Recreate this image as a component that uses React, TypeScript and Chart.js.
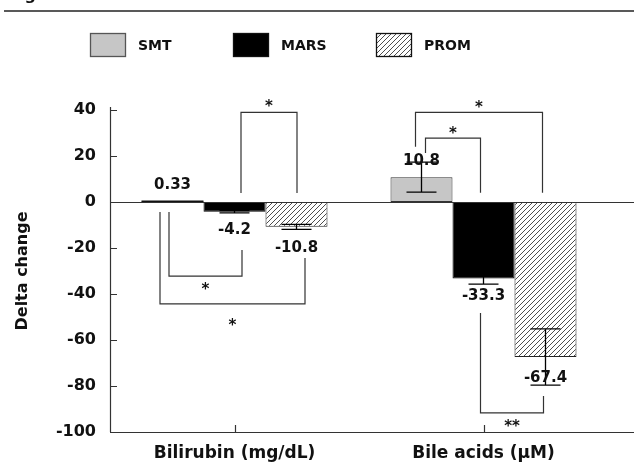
import { useEffect, useRef } from 'react';
import { Chart, registerables } from 'chart.js';

Chart.register(...registerables);

const categories = ['Bilirubin (mg/dL)', 'Bile acids (μM)'];
const seriesNames = ['SMT', 'MARS', 'PROM'];
const smtValues = [0.33, 10.8];
const marsValues = [-4.2, -33.3];
const promValues = [-10.8, -67.4];
const smtErrors = [0, 6.5];
const marsErrors = [0.5, 2.4];
const promErrors = [1.1, 12.2];
const yMin = -100;
const yMax = 40;
const yStep = 20;

// significance brackets: category, bar a, bar b, end values (data units), level (data units)
const brackets = [
  { cat: 0, a: 1, b: 2, aEnd: 3.9, bEnd: 3.9, level: 39, aDx: 6.5, bDx: 0.5, stars: '*', below: false, gap: 10 },
  { cat: 0, a: 0, b: 1, aEnd: -4.3, bEnd: -20.9, level: -32.2, aDx: -3.5, bDx: 7.5, stars: '*', below: true, gap: 9 },
  { cat: 0, a: 0, b: 2, aEnd: -4.3, bEnd: -24.3, level: -44.3, aDx: -12.5, bDx: 8.5, stars: '*', below: true, gap: 17 },
  { cat: 1, a: 0, b: 2, aEnd: 24, bEnd: 4, level: 39, aDx: -6, bDx: -3, stars: '*', below: false, gap: 9 },
  { cat: 1, a: 0, b: 1, aEnd: 21.3, bEnd: 4, level: 27.8, aDx: 4, bDx: -3, stars: '*', below: false, gap: 9 },
  { cat: 1, a: 1, b: 2, aEnd: -48.3, bEnd: -84.3, level: -91.7, aDx: -3, bDx: -2, stars: '**', below: true, gap: 9 },
];

const FONT = "'DejaVu Sans', sans-serif";

function makeHatch(): CanvasPattern | string {
  const c = document.createElement('canvas');
  const s = 5;
  c.width = s;
  c.height = s;
  const g = c.getContext('2d');
  if (!g) return '#fff';
  g.fillStyle = '#fff';
  g.fillRect(0, 0, s, s);
  g.strokeStyle = '#3a3a3a';
  g.lineWidth = 0.9;
  g.beginPath();
  g.moveTo(-1, s + 1);
  g.lineTo(s + 1, -1);
  g.moveTo(-1, 1);
  g.lineTo(1, -1);
  g.moveTo(s - 1, s + 1);
  g.lineTo(s + 1, s - 1);
  g.stroke();
  return g.createPattern(c, 'repeat') || '#fff';
}

export default function App() {
  const ref = useRef<HTMLCanvasElement | null>(null);

  useEffect(() => {
    document.body.style.margin = '0';
    const canvas = ref.current;
    if (!canvas) return;
    const hatch = makeHatch();
    const values = [smtValues, marsValues, promValues];
    const errors = [smtErrors, marsErrors, promErrors];
    const fills: (string | CanvasPattern)[] = ['#c6c6c6', '#000000', hatch];
    const borders = ['#333333', '#000000', '#222222'];

    const overlay = {
      id: 'overlay',
      afterDatasetsDraw(chart: any) {
        const ctx: CanvasRenderingContext2D = chart.ctx;
        const ys = chart.scales.y;
        const xs = chart.scales.x;
        const area = chart.chartArea;
        const W = chart.width;
        ctx.save();
        // zero line and bottom axis, extended to the right edge
        ctx.strokeStyle = '#333';
        ctx.lineWidth = 1.2;
        ctx.beginPath();
        const y0 = Math.round(ys.getPixelForValue(0)) + 0.5;
        ctx.moveTo(area.left, y0);
        ctx.lineTo(W, y0);
        const yb = Math.round(area.bottom) + 0.5;
        ctx.moveTo(area.left, yb);
        ctx.lineTo(W, yb);
        ctx.stroke();
        // y axis line slightly above the top tick
        ctx.beginPath();
        ctx.moveTo(area.left + 0.5, area.top - 3);
        ctx.lineTo(area.left + 0.5, area.bottom);
        ctx.stroke();
        // inward ticks on y
        ctx.beginPath();
        for (let v = yMin; v <= yMax; v += yStep) {
          const py = Math.round(ys.getPixelForValue(v)) + 0.5;
          ctx.moveTo(area.left, py);
          ctx.lineTo(area.left + 7, py);
        }
        // inward category ticks
        for (let i = 0; i < categories.length; i++) {
          const px = Math.round(xs.getPixelForValue(i)) + 0.5;
          ctx.moveTo(px, area.bottom);
          ctx.lineTo(px, area.bottom - 7);
        }
        ctx.stroke();

        // SMT near-zero bar outline emphasis (bar edge as drawn in the source)
        {
          const meta = chart.getDatasetMeta(0);
          for (let i = 0; i < categories.length; i++) {
            const el = meta.data[i];
            const h = Math.abs(el.base - el.y);
            if (h < 3) {
              ctx.strokeStyle = '#111';
              ctx.lineWidth = 1.6;
              ctx.beginPath();
              ctx.moveTo(el.x - el.width / 2, el.y);
              ctx.lineTo(el.x + el.width / 2, el.y);
              ctx.stroke();
            }
          }
        }

        // error bars
        ctx.strokeStyle = '#000';
        ctx.lineWidth = 1.3;
        for (let d = 0; d < values.length; d++) {
          const meta = chart.getDatasetMeta(d);
          for (let i = 0; i < categories.length; i++) {
            const e = errors[d][i];
            if (!e) continue;
            const v = values[d][i];
            const x = meta.data[i].x;
            const yTop = ys.getPixelForValue(v + e);
            const yBot = ys.getPixelForValue(v - e);
            ctx.beginPath();
            ctx.moveTo(x, yTop);
            ctx.lineTo(x, yBot);
            ctx.moveTo(x - 15, yTop);
            ctx.lineTo(x + 15, yTop);
            ctx.moveTo(x - 15, yBot);
            ctx.lineTo(x + 15, yBot);
            ctx.stroke();
          }
        }

        // value labels
        ctx.fillStyle = '#111';
        ctx.font = `bold 15px ${FONT}`;
        ctx.textAlign = 'center';
        ctx.textBaseline = 'middle';
        for (let d = 0; d < values.length; d++) {
          const meta = chart.getDatasetMeta(d);
          for (let i = 0; i < categories.length; i++) {
            const v = values[d][i];
            const x = meta.data[i].x;
            const off = v >= 0 ? -16 : d === 1 ? 18 : 21;
            ctx.fillText(String(v), x, ys.getPixelForValue(v) + off);
          }
        }

        // significance brackets
        ctx.strokeStyle = '#333';
        ctx.lineWidth = 1.2;
        const starSize = 15;
        for (const b of brackets) {
          const xa = chart.getDatasetMeta(b.a).data[b.cat].x + b.aDx;
          const xb = chart.getDatasetMeta(b.b).data[b.cat].x + b.bDx;
          const yl = ys.getPixelForValue(b.level);
          ctx.beginPath();
          ctx.moveTo(xa, ys.getPixelForValue(b.aEnd));
          ctx.lineTo(xa, yl);
          ctx.lineTo(xb, yl);
          ctx.lineTo(xb, ys.getPixelForValue(b.bEnd));
          ctx.stroke();
          const cy = b.below ? yl + b.gap : yl - b.gap;
          ctx.font = `bold ${starSize}px ${FONT}`;
          ctx.textBaseline = 'alphabetic';
          ctx.fillText(b.stars, (xa + xb) / 2, cy + starSize * 0.59);
        }
        ctx.restore();
      },
      afterDraw(chart: any) {
        const ctx: CanvasRenderingContext2D = chart.ctx;
        const W = chart.width;
        ctx.save();
        // header rule and clipped caption
        ctx.fillStyle = '#111';
        ctx.font = `bold 16px ${FONT}`;
        ctx.textAlign = 'left';
        ctx.textBaseline = 'alphabetic';
        ctx.fillText('Fig', 8, -0.5);
        ctx.strokeStyle = '#222';
        ctx.lineWidth = 1.5;
        ctx.beginPath();
        ctx.moveTo(4, 11);
        ctx.lineTo(W, 11);
        ctx.stroke();
        // legend
        const bw = 36;
        const bh = 24;
        for (let d = 0; d < seriesNames.length; d++) {
          const x = 90 + d * 143;
          const y = 33;
          ctx.fillStyle = fills[d] as any;
          ctx.fillRect(x, y, bw, bh);
          ctx.strokeStyle = d === 0 ? '#555' : '#111';
          ctx.lineWidth = 1.3;
          ctx.strokeRect(x + 0.5, y + 0.5, bw - 1, bh - 1);
          ctx.fillStyle = '#111';
          ctx.font = `bold 14px ${FONT}`;
          ctx.textBaseline = 'middle';
          ctx.fillText(seriesNames[d], x + bw + 12, y + bh / 2 + 1);
        }
        ctx.restore();
      },
    };

    const chart = new Chart(canvas, {
      type: 'bar',
      data: {
        labels: categories,
        datasets: seriesNames.map((name, d) => ({
          label: name,
          data: values[d],
          backgroundColor: fills[d] as any,
          borderColor: borders[d],
          borderWidth: 1,
          borderSkipped: false,
          barPercentage: 1,
          categoryPercentage: 0.747,
        })),
      },
      options: {
        responsive: false,
        animation: false,
        layout: { padding: { top: 110, right: 26, left: 0, bottom: 0 } },
        plugins: {
          legend: { display: false },
          tooltip: { enabled: false },
        },
        scales: {
          x: {
            type: 'category',
            offset: true,
            grid: { display: false, drawTicks: false },
            border: { display: false },
            ticks: {
              color: '#111',
              font: { family: FONT, size: 17, weight: 'bold' },
              padding: 11,
              maxRotation: 0,
            },
            afterFit: (s: any) => {
              s.height = 34;
            },
          },
          y: {
            min: yMin,
            max: yMax,
            grid: { display: false, drawTicks: false },
            border: { display: false },
            ticks: {
              stepSize: yStep,
              color: '#111',
              font: { family: FONT, size: 16, weight: 'bold' },
              padding: 14,
            },
            title: {
              display: true,
              text: 'Delta change',
              color: '#111',
              font: { family: FONT, size: 16, weight: 'bold' },
              padding: { top: 13, bottom: 0 },
            },
            afterFit: (s: any) => {
              s.width = 110;
            },
          },
        },
      },
      plugins: [overlay],
    } as any);

    return () => {
      chart.destroy();
    };
  }, []);

  return (
    <canvas ref={ref} width={634} height={466} style={{ display: 'block', width: 634, height: 466 }} />
  );
}
